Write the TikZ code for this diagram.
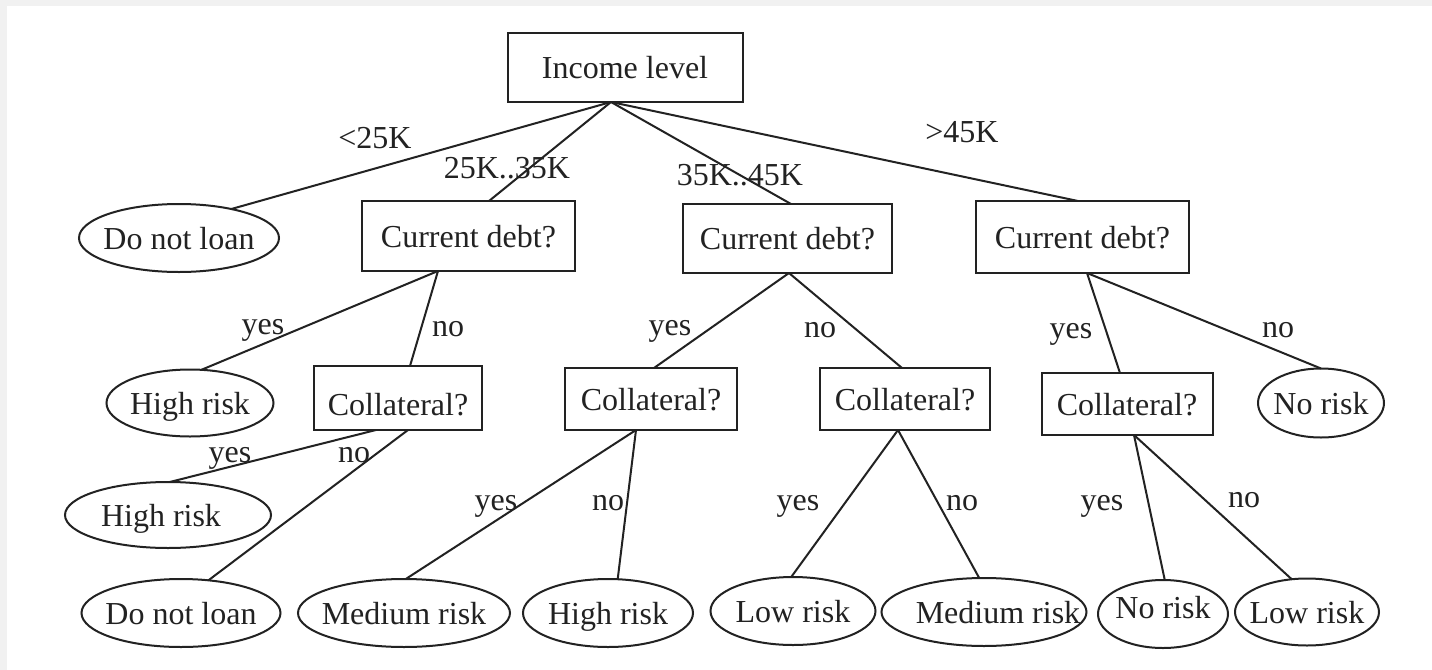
\documentclass[tikz,border=0pt]{standalone}
\usepackage{fontspec}
\setmainfont{Liberation Serif}
\usetikzlibrary{shapes.geometric,calc}
\definecolor{ink}{HTML}{222222}
\definecolor{framegray}{HTML}{F1F1F1}
\newcommand{\zw}[1]{\makebox[0pt]{#1}}
\begin{document}
\begin{tikzpicture}[x=0.5pt,y=-0.5pt,
  every node/.style={font=\fontsize{16}{19}\selectfont, text=ink},
  box/.style={draw=ink, line width=1pt, rectangle, inner sep=0pt, outer sep=0pt, text height=11pt, text depth=0pt},
  leaf/.style={draw=ink, line width=1pt, ellipse, inner sep=0pt, outer sep=0pt, text height=11pt, text depth=0pt},
  edge/.style={draw=ink, line width=1pt},
  lbl/.style={anchor=base, inner sep=0pt}]
\useasboundingbox (0,0) rectangle (1432,670);
\fill[framegray] (0,0) rectangle (1432,670);
\fill[white] (7,6) rectangle (1432,670);

% decision nodes
\node[box, minimum width=117.5pt, minimum height=34.5pt] (inc) at (625,67.5) {Income level};
\node[box, minimum width=106.5pt, minimum height=35pt] (cd1) at (468.5,236) {Current debt?};
\node[box, minimum width=104.5pt, minimum height=34.5pt] (cd2) at (787.5,238.5) {Current debt?};
\node[box, minimum width=106.5pt, minimum height=36pt] (cd3) at (1082.5,237) {Current debt?};
\node[box, minimum width=84pt, minimum height=32pt] (col1) at (398,398) {\raisebox{-3pt}{Collateral?}};
\node[box, minimum width=86pt, minimum height=31pt] (col2) at (651,399) {Collateral?};
\node[box, minimum width=85pt, minimum height=31pt] (col3) at (905,399) {Collateral?};
\node[box, minimum width=85.5pt, minimum height=31pt] (col4) at (1127,404) {Collateral?};

% leaves
\node[leaf, minimum width=100pt, minimum height=34pt] (dnl1) at (179,238) {\zw{Do not loan}};
\node[leaf, minimum width=83.5pt, minimum height=33.5pt] (hr1) at (190,403) {\zw{High risk}};
\node[leaf, minimum width=63pt, minimum height=34.5pt] (nr1) at (1321,403) {\zw{No risk}};
\node[leaf, minimum width=103pt, minimum height=33pt] (hr2) at (168,515) {\zw{\hspace{-7pt}High risk}};
\node[leaf, minimum width=99.5pt, minimum height=34pt] (dnl2) at (181,613) {\zw{Do not loan}};
\node[leaf, minimum width=106pt, minimum height=34pt] (mr1) at (404,613) {\zw{Medium risk}};
\node[leaf, minimum width=85pt, minimum height=34pt] (hr3) at (608,613) {\zw{High risk}};
\node[leaf, minimum width=82.5pt, minimum height=34pt] (lr1) at (793,611) {\zw{Low risk}};
\node[leaf, minimum width=102.5pt, minimum height=34pt] (mr2) at (984,612) {\zw{\hspace{14pt}Medium risk}};
\node[leaf, minimum width=65pt, minimum height=34pt] (nr2) at (1163,614) {\zw{\raisebox{3.5pt}{No risk}}};
\node[leaf, minimum width=72pt, minimum height=33.5pt] (lr2) at (1307,612) {\zw{Low risk}};

% connectors
\draw[edge] ($(inc.south)+(-14,0)$) -- (dnl1.29);
\draw[edge] ($(inc.south)+(-14,0)$) -- ($(cd1.north)+(20.5,0)$);
\draw[edge] ($(inc.south)+(-14,0)$) -- ($(cd2.north)+(3.5,0)$);
\draw[edge] ($(inc.south)+(-14,0)$) -- ($(cd3.north)+(-4.5,0)$);

\draw[edge] ($(cd1.south)+(-30.5,0)$) -- (hr1.71);
\draw[edge] ($(cd1.south)+(-30.5,0)$) -- ($(col1.north)+(12,0)$);
\draw[edge] ($(cd2.south)+(1.5,0)$) -- ($(col2.north)+(3,0)$);
\draw[edge] ($(cd2.south)+(1.5,0)$) -- ($(col3.north)+(-3,0)$);
\draw[edge] ($(cd3.south)+(4.5,0)$) -- ($(col4.north)+(-7,0)$);
\draw[edge] ($(cd3.south)+(4.5,0)$) -- (nr1.north);

\draw[edge] ($(col1.south)+(-22,0)$) -- (hr2.87);
\draw[edge] ($(col1.south)+(10,0)$) -- (dnl2.50);
\draw[edge] ($(col2.south)+(-15,0)$) -- (mr1.87);
\draw[edge] ($(col2.south)+(-15,0)$) -- (hr3.74);
\draw[edge] ($(col3.south)+(-7,0)$) -- (lr1.93);
\draw[edge] ($(col3.south)+(-7,0)$) -- (mr2.98);
\draw[edge] ($(col4.south)+(7,0)$) -- (nr2.87);
\draw[edge] ($(col4.south)+(7,0)$) -- (lr2.115);

% edge labels
\node[lbl] (l1) at (375,148) {<25K};
\node[lbl] (l2) at (507,178) {25K..35K};
\node[lbl] (l3) at (740,185) {35K..45K};
\node[lbl] (l4) at (962,142) {>45K};

\node[lbl] (y1) at (263,334) {yes};
\node[lbl] (n1) at (448,336) {no};
\node[lbl] (y2) at (670,335) {yes};
\node[lbl] (n2) at (820,337) {no};
\node[lbl] (y3) at (1071,338) {yes};
\node[lbl] (n3) at (1278,337) {no};

\node[lbl] (y4) at (230,462) {yes};
\node[lbl] (n4) at (354,462) {no};
\node[lbl] (y5) at (496,510) {yes};
\node[lbl] (n5) at (608,510) {no};
\node[lbl] (y6) at (798,510) {yes};
\node[lbl] (n6) at (962,510) {no};
\node[lbl] (y7) at (1102,510) {yes};
\node[lbl] (n7) at (1244,507) {no};
\end{tikzpicture}
\end{document}
